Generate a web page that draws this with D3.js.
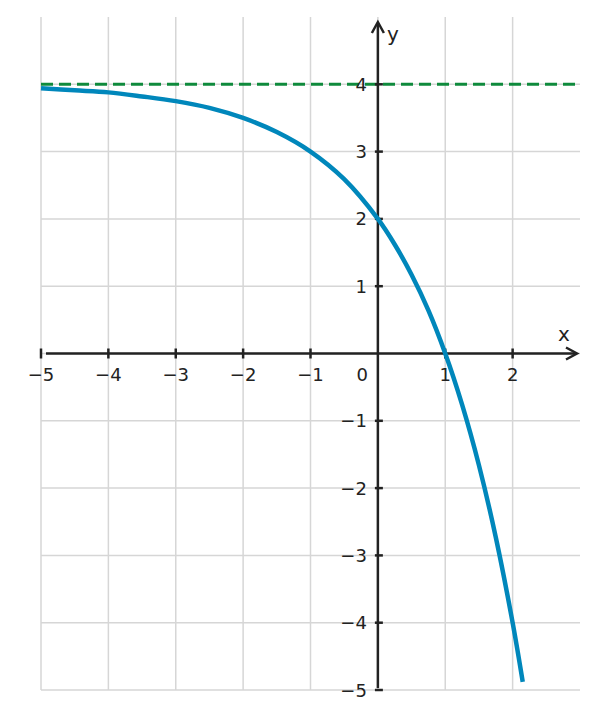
<!DOCTYPE html>
<html><head><meta charset="utf-8">
<script src="https://cdn.jsdelivr.net/npm/d3@7"></script>
<style>body{margin:0;background:#fff}svg{display:block}</style>
</head><body>
<script>
const xTicks = [-5,-4,-3,-2,-1,0,1,2];
const yTicks = [-5,-4,-3,-2,-1,1,2,3,4];
const gridX = [-5,-4,-3,-2,-1,0,1,2];
const gridY = [-5,-4,-3,-2,-1,0,1,2,3,4];
const curveX = [-5,-4.5,-4,-3.5,-3,-2.5,-2,-1.5,-1,-0.5,0,0.25,0.5,0.75,1,1.25,1.5,1.75,2,2.15];
const curveY = [3.94,3.91,3.88,3.82,3.75,3.65,3.5,3.29,3.0,2.59,2.0,1.62,1.17,0.64,0,-0.76,-1.66,-2.73,-4.0,-4.88];
const asymptoteY = [4];

const W=598,H=719;
const x=d3.scaleLinear().domain([-5,3]).range([41,580]);
const y=d3.scaleLinear().domain([-5,5]).range([690,17]);
const svg=d3.select("body").append("svg").attr("width",W).attr("height",H);
const grid="#d6d6d6", axisC="#222";
const font="DejaVu Sans";

svg.append("g").selectAll("line").data(gridX).join("line")
  .attr("x1",d=>x(d)).attr("x2",d=>x(d)).attr("y1",y(5)).attr("y2",y(-5))
  .attr("stroke",grid).attr("stroke-width",1.5);
svg.append("g").selectAll("line").data(gridY).join("line")
  .attr("x1",x(-5)).attr("x2",x(3)).attr("y1",d=>y(d)).attr("y2",d=>y(d))
  .attr("stroke",grid).attr("stroke-width",1.5);

// asymptote
svg.append("g").selectAll("line").data(asymptoteY).join("line")
  .attr("x1",x(-5)).attr("x2",x(3)).attr("y1",d=>y(d)).attr("y2",d=>y(d))
  .attr("stroke","#0f8a3c").attr("stroke-width",3).attr("stroke-dasharray","12,6");

// axes
svg.append("line").attr("x1",x(-5)+5).attr("x2",x(3)-4).attr("y1",y(0)).attr("y2",y(0))
  .attr("stroke",axisC).attr("stroke-width",2.5);
svg.append("line").attr("x1",x(0)).attr("x2",x(0)).attr("y1",y(-5)-2).attr("y2",y(5)+6)
  .attr("stroke",axisC).attr("stroke-width",2.5);
// arrows
const ax=x(3)-3, ay=y(0);
svg.append("path").attr("d",`M${ax-11},${ay-6}L${ax},${ay}L${ax-11},${ay+6}`)
  .attr("fill","none").attr("stroke",axisC).attr("stroke-width",2.5).attr("stroke-linejoin","miter");
const bx=x(0), by=y(5)+5;
svg.append("path").attr("d",`M${bx-6},${by+11}L${bx},${by}L${bx+6},${by+11}`)
  .attr("fill","none").attr("stroke",axisC).attr("stroke-width",2.5);

// ticks
svg.append("g").selectAll("line").data(xTicks.filter(d=>d!==0)).join("line")
  .attr("x1",d=>x(d)).attr("x2",d=>x(d)).attr("y1",y(0)-5).attr("y2",y(0)+5)
  .attr("stroke",axisC).attr("stroke-width",2.5);
svg.append("g").selectAll("line").data(yTicks).join("line")
  .attr("x1",x(0)-3).attr("x2",x(0)+5).attr("y1",d=>y(d)).attr("y2",d=>y(d))
  .attr("stroke",axisC).attr("stroke-width",2.5);

// labels
const fmt=d=>d<0?"\u2212"+Math.abs(d):String(d);
svg.append("g").selectAll("text").data(xTicks.filter(d=>d!==0)).join("text")
  .attr("x",d=>x(d)).attr("y",y(0)+27).attr("text-anchor","middle")
  .attr("font-family",font).attr("font-size",18).attr("fill",axisC).text(fmt);
svg.append("text").attr("x",x(0)-10).attr("y",y(0)+27).attr("text-anchor","end")
  .attr("font-family",font).attr("font-size",18).attr("fill",axisC).text("0");
svg.append("g").selectAll("text").data(yTicks).join("text")
  .attr("x",x(0)-11).attr("y",d=>y(d)+6.5).attr("text-anchor","end")
  .attr("font-family",font).attr("font-size",18).attr("fill",axisC).text(fmt);
svg.append("text").attr("x",x(3)-16).attr("y",y(0)-13).attr("text-anchor","middle")
  .attr("font-family",font).attr("font-size",20).attr("fill",axisC).text("x");
svg.append("text").attr("x",x(0)+15).attr("y",y(5)+24).attr("text-anchor","middle")
  .attr("font-family",font).attr("font-size",20).attr("fill",axisC).text("y");

// curve
const pts=curveX.map((v,i)=>[v,curveY[i]]);
svg.append("path").datum(pts)
  .attr("d",d3.line().x(d=>x(d[0])).y(d=>y(d[1])).curve(d3.curveCatmullRom))
  .attr("fill","none").attr("stroke","#0087bb").attr("stroke-width",4.5).attr("stroke-linecap","butt");
</script>
</body></html>
